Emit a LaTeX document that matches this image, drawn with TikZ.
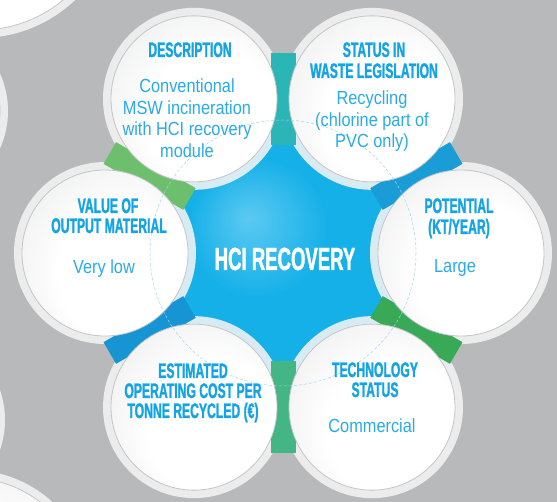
\documentclass[tikz,border=0pt]{standalone}
\usepackage{fontspec}
\setmainfont{Liberation Sans}
\newfontfamily\titlefont{Liberation Sans}[FakeStretch=0.58,FakeBold=1.2]
\newfontfamily\bodyfont{Liberation Sans}[FakeStretch=0.86]
\usetikzlibrary{calc}
\definecolor{bg}{HTML}{B7B9BB}
\definecolor{cblue}{HTML}{15B0E8}
\definecolor{hiblue}{HTML}{5CC9F2}
\definecolor{bubgray}{HTML}{E0E1E2}
\definecolor{ringwhite}{HTML}{F4F4F5}
\definecolor{rimgray}{HTML}{C4C5C6}
\definecolor{ttlblue}{HTML}{14A4E6}
\definecolor{txtblue}{HTML}{2AABE6}
\definecolor{thinblue}{HTML}{9FD6F2}
\definecolor{cteal}{HTML}{2CB5B6}
\definecolor{cblueA}{HTML}{1A9CD6}
\definecolor{cgreen}{HTML}{38A956}
\definecolor{cseagreen}{HTML}{44B585}
\definecolor{cblueB}{HTML}{1795D3}
\definecolor{clgreen}{HTML}{6DBF6E}
\pgfdeclareradialshading{bluespot}{\pgfpoint{-7bp}{7bp}}{color(0bp)=(hiblue); color(14bp)=(cblue); color(50bp)=(cblue)}
\pgfdeclareradialshading{bub}{\pgfpoint{9bp}{-9bp}}{color(0bp)=(white); color(20bp)=(white); color(50bp)=(bubgray); color(65bp)=(bubgray)}
\begin{document}
\begin{tikzpicture}[x=1pt,y=-1pt,
  ring/.style={circle, inner sep=0pt, minimum size=#1, fill=ringwhite, fill opacity=0.88},
  bubble/.style={circle, inner sep=0pt, minimum size=#1, shading=bub, draw=rimgray, line width=0.8pt},
  ttl/.style={font=\titlefont\bfseries\fontsize{21}{21}\selectfont, text=ttlblue, anchor=base, inner sep=0pt},
  txt/.style={font=\bodyfont\fontsize{19}{21}\selectfont, text=txtblue, anchor=base, inner sep=0pt},
  bar/.style={line width=25pt, draw=#1},
  thinline/.style={draw=thinblue, line width=0.5pt, densely dashed},
]
\useasboundingbox (0,0) rectangle (557,502);
\clip (0,0) rectangle (557,502);
\fill[bg] (0,0) rectangle (557,502);

% background partial circles
\node[ring=276pt] (bgA) at (-20,-100) {};
\node[bubble=260pt] (bgAi) at (-20,-100) {};
\node[ring=182pt] (bgB) at (-83,111) {};
\node[bubble=166pt] (bgBi) at (-83,111) {};
\node[ring=182pt] (bgC) at (-86,420) {};
\node[bubble=166pt] (bgCi) at (-86,420) {};
\node[ring=244pt] (bgD) at (-30,592) {};
\node[bubble=228pt] (bgDi) at (-30,592) {};

% centre
\coordinate (C) at (283,253);
\node[circle, inner sep=0pt, minimum size=250pt, shading=bluespot] (core) at (C) {};

% outer rings of the bubbles
\foreach \n/\a in {pot/0, tec/60, est/120, val/180, des/240, sta/300}{
  \node[ring=182pt] (r\n) at ($(C)+(\a:178)$) {};
}

% connecting bars
\foreach \a/\c in {30/cgreen, 90/cseagreen, 150/cblueB, 210/clgreen, 270/cteal, 330/cblueA}{
  \coordinate (i\a) at ($(C)+(\a:108)$);
  \coordinate (o\a) at ($(C)+(\a:200)$);
  \draw[bar=\c] (i\a) -- (o\a);
}

% bubbles
\foreach \n/\a in {pot/0, tec/60, est/120, val/180, des/240, sta/300}{
  \node[bubble=166pt] (b\n) at ($(C)+(\a:178)$) {};
}

\draw[thinline] (C) circle[radius=133];

% centre label
\node[font=\titlefont\bfseries\fontsize{32}{32}\selectfont, text=white, anchor=base, inner sep=0pt] (ctr) at (285,270) {HCI RECOVERY};

% description
\node[ttl] (d1) at (190,57) {DESCRIPTION};
\node[txt] (d2) at (187,93) {Conventional};
\node[txt] (d3) at (187,114.5) {MSW incineration};
\node[txt] (d4) at (187,136) {with HCI recovery};
\node[txt] (d5) at (187,157.5) {module};

% status
\node[ttl] (s1) at (374,57) {STATUS IN};
\node[ttl] (s2) at (374,78) {WASTE LEGISLATION};
\node[txt] (s3) at (372,105) {Recycling};
\node[txt] (s4) at (372,126.5) {(chlorine part of};
\node[txt] (s5) at (372,148) {PVC only)};

% potential
\node[ttl] (p1) at (459,213) {POTENTIAL};
\node[ttl] (p2) at (459,234) {(KT/YEAR)};
\node[txt] (p3) at (455,273) {Large};

% value
\node[ttl] (v1) at (108,213) {VALUE OF};
\node[ttl] (v2) at (109,233) {OUTPUT MATERIAL};
\node[txt] (v3) at (104,274) {Very low};

% estimated
\node[ttl] (e1) at (193,378) {ESTIMATED};
\node[ttl] (e2) at (193,398) {OPERATING COST PER};
\node[ttl] (e3) at (193,418) {TONNE RECYCLED (€)};

% technology
\node[ttl] (t1) at (375,377) {TECHNOLOGY};
\node[ttl] (t2) at (375,397) {STATUS};
\node[txt] (t3) at (372,433) {Commercial};
\end{tikzpicture}
\end{document}
